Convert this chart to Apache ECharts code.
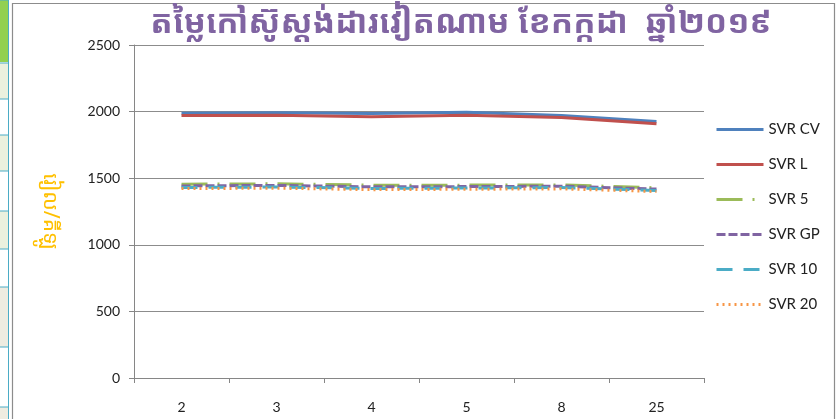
<!DOCTYPE html>
<html>
<head>
<meta charset="utf-8">
<script src="https://cdn.jsdelivr.net/npm/echarts@6/dist/echarts.min.js"></script>
<style>html,body{margin:0;padding:0;background:#fff}#c{width:837px;height:419px}</style>
</head>
<body>
<div id="c"></div>
<script>
var categories = ['2', '3', '4', '5', '8', '25'];
var svrCV = [1988, 1992, 1985, 1995, 1970, 1925];
var svrL  = [1970, 1972, 1962, 1972, 1955, 1908];
var svr5  = [1455, 1458, 1448, 1448, 1450, 1428];
var svrGP = [1442, 1446, 1435, 1437, 1440, 1418];
var svr10 = [1430, 1434, 1423, 1426, 1430, 1408];
var svr20 = [1422, 1425, 1414, 1417, 1420, 1400];
var seriesNames = ['SVR CV', 'SVR L', 'SVR 5', 'SVR GP', 'SVR 10', 'SVR 20'];
var titleText = 'តម្លៃកៅស៊ូស្តង់ដារវៀតណាម ខែកក្កដា  ឆ្នាំ២០១៩';
var yName = 'រៀល/គីឡូ';

var khmerFont = '"Noto Sans Khmer","Khmer OS","Khmer OS System","Noto Serif Khmer","DejaVu Sans",sans-serif';
var labFont = 'Lato, "Open Sans", sans-serif';

function mk(name, data, color, type) {
  return {
    name: name, type: 'line', data: data, symbol: 'none', smooth: false,
    lineStyle: { color: color, width: 3, type: type },
    itemStyle: { color: color }
  };
}

var chart = echarts.init(document.getElementById('c'));
var bgCells = [
  [0, 62, '#92D050'], [63, 99, '#EBF1DE'], [99, 135, '#FFFFFF'], [135, 171, '#EBF1DE'],
  [171, 211, '#FFFFFF'], [211, 249, '#EBF1DE'], [249, 287, '#FFFFFF'], [287, 347, '#EEECE1'],
  [347, 407, '#FFFFFF'], [407, 419, '#EEECE1']
];
var graphics = [];
bgCells.forEach(function (c) {
  graphics.push({ type: 'rect', shape: { x: 0, y: c[0], width: 8, height: c[1] - c[0] }, style: { fill: c[2] }, silent: true });
  graphics.push({ type: 'line', shape: { x1: 0, y1: c[0], x2: 8, y2: c[0] }, style: { stroke: '#4BACC6', lineWidth: 1 }, silent: true });
});
graphics.push({ type: 'line', shape: { x1: 8.5, y1: 0, x2: 8.5, y2: 419 }, style: { stroke: '#4BACC6', lineWidth: 1 }, silent: true });
graphics.push({ type: 'rect', shape: { x: 12.5, y: 3.5, width: 822, height: 430 }, style: { fill: 'none', stroke: '#8c8c8c', lineWidth: 1.2 }, silent: true });

chart.setOption({
  animation: false,
  backgroundColor: '#fff',
  graphic: graphics,
  title: {
    text: titleText, left: 456, top: 2, textAlign: 'center',
    textStyle: { color: '#8064A2', fontSize: 33, fontWeight: 'bold', fontFamily: khmerFont }
  },
  legend: {
    orient: 'vertical', left: 710, top: 117, itemWidth: 47, itemHeight: 14, itemGap: 20,
    data: seriesNames,
    itemStyle: { opacity: 0 },
    lineStyle: { width: 3 },
    textStyle: { color: '#222', fontSize: 15, fontFamily: labFont }
  },
  grid: { left: 134, right: 133, top: 45, bottom: 41, containLabel: false },
  xAxis: {
    type: 'category', data: categories, boundaryGap: true,
    axisLine: { lineStyle: { color: '#868686' } },
    axisTick: { show: true, alignWithLabel: false, length: 5, lineStyle: { color: '#868686' } },
    axisLabel: { color: '#222', fontSize: 14, margin: 22, fontFamily: labFont }
  },
  yAxis: {
    type: 'value', min: 0, max: 2500, interval: 500,
    name: yName, nameLocation: 'middle', nameGap: 74, nameRotate: -90,
    nameTextStyle: { color: '#FFC000', fontSize: 21, fontFamily: khmerFont },
    axisLine: { show: true, lineStyle: { color: '#868686' } },
    axisTick: { show: true, length: 5, lineStyle: { color: '#868686' } },
    splitLine: { lineStyle: { color: '#8c8c8c' } },
    axisLabel: { color: '#222', fontSize: 14, margin: 14, fontFamily: labFont, formatter: function (v) { return String(v); } }
  },
  series: [
    mk(seriesNames[0], svrCV, '#4F81BD', 'solid'),
    mk(seriesNames[1], svrL, '#C0504D', 'solid'),
    mk(seriesNames[2], svr5, '#9BBB59', [26, 10, 2, 10]),
    mk(seriesNames[3], svrGP, '#8064A2', [9, 3]),
    mk(seriesNames[4], svr10, '#4BACC6', [16, 11]),
    mk(seriesNames[5], svr20, '#F79646', [2, 4])
  ]
});
</script>
</body>
</html>
